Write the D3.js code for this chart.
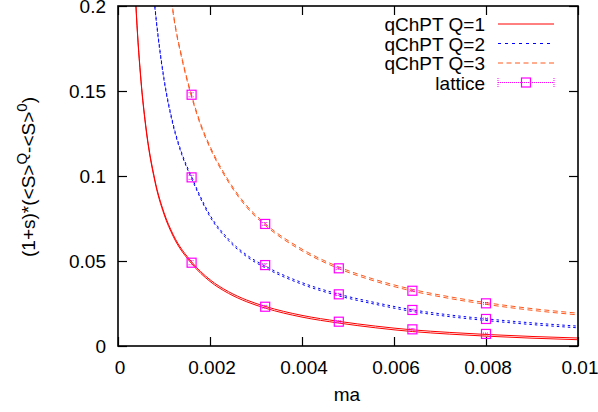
<!DOCTYPE html>
<html><head><meta charset="utf-8">
<script src="https://cdn.jsdelivr.net/npm/d3@7"></script>
<style>
html,body{margin:0;padding:0;background:#fff;}
svg{display:block;}
text{font-family:"Liberation Sans",Arial,Helvetica,sans-serif;fill:#000;}
</style></head>
<body>
<svg id="chart" width="598" height="412"></svg>
<script>
// ---- data ----
const xTicks = [0, 0.002, 0.004, 0.006, 0.008, 0.01];
const xTickLabels = ["0", "0.002", "0.004", "0.006", "0.008", "0.01"];
const yTicks = [0, 0.05, 0.1, 0.15, 0.2];
const yTickLabels = ["0", "0.05", "0.1", "0.15", "0.2"];

const q1Ma  = [0.00035,0.0004,0.0005,0.0006,0.0008,0.001,0.0012,0.0016,0.002,0.0024,0.0028,0.0032,0.004,0.0048,0.0056,0.0064,0.0072,0.008,0.009,0.01];
const q1Val = [0.223,0.195,0.156,0.130,0.0975,0.078,0.065,0.049,0.0385,0.0315,0.0265,0.0228,0.0175,0.0140,0.0112,0.0090,0.0075,0.0063,0.0051,0.0042];
const q1Band = 0.0005;

const q2Ma  = [0.0007,0.0008,0.0009,0.001,0.0012,0.0014,0.0016,0.002,0.0024,0.0028,0.0032,0.004,0.0048,0.0056,0.0064,0.0072,0.008,0.009,0.01];
const q2Val = [0.232,0.200,0.176,0.157,0.130,0.112,0.099,0.0765,0.0625,0.0530,0.0465,0.0368,0.0300,0.0250,0.0208,0.0178,0.0155,0.0131,0.0112];
const q2Band = 0.0005;

const q3Ma  = [0.0011,0.0012,0.0014,0.0016,0.0018,0.002,0.0024,0.0028,0.0032,0.004,0.0048,0.0056,0.0064,0.0072,0.008,0.009,0.01];
const q3Val = [0.218,0.196,0.168,0.147,0.130,0.117,0.097,0.082,0.0715,0.0565,0.0460,0.0385,0.0328,0.0285,0.0250,0.0215,0.0188];
const q3Band = 0.0005;

const latMa  = [0.0016, 0.0032, 0.0048, 0.0064, 0.008];
const latQ1  = [0.0490, 0.0231, 0.0143, 0.0098, 0.0071];
const latQ2  = [0.0992, 0.0476, 0.0304, 0.0212, 0.0159];
const latQ3  = [0.1478, 0.0718, 0.0457, 0.0325, 0.0251];
const latErr = [0.0012, 0.0008, 0.0006, 0.0005, 0.0005];

const legendLabels = ["qChPT Q=1", "qChPT Q=2", "qChPT Q=3", "lattice"];

// ---- layout ----
const L = 118, R = 578, T = 6, B = 346;
const svg = d3.select("#chart");
const x = d3.scaleLinear().domain([0, 0.01]).range([L, R]);
const y = d3.scaleLinear().domain([0, 0.2]).range([B, T]);

svg.append("defs").append("clipPath").attr("id","clip")
  .append("rect").attr("x",L).attr("y",T).attr("width",R-L).attr("height",B-T);

const fs = 19;

// axes with inward ticks
const tickLen = 9;
const axB = d3.axisBottom(x).tickValues(xTicks).tickSize(-tickLen).tickFormat("");
const axT = d3.axisTop(x).tickValues(xTicks).tickSize(-tickLen).tickFormat("");
const axL = d3.axisLeft(y).tickValues(yTicks).tickSize(-tickLen).tickFormat("");
const axR = d3.axisRight(y).tickValues(yTicks).tickSize(-tickLen).tickFormat("");
function styleAx(g){ g.select(".domain").remove(); g.selectAll("line").attr("stroke","#000").attr("stroke-width",1.2); }
svg.append("g").attr("transform",`translate(0,${B})`).call(axB).call(styleAx);
svg.append("g").attr("transform",`translate(0,${T})`).call(axT).call(styleAx);
svg.append("g").attr("transform",`translate(${L},0)`).call(axL).call(styleAx);
svg.append("g").attr("transform",`translate(${R},0)`).call(axR).call(styleAx);

// tick labels
svg.append("g").selectAll("text").data(xTicks).join("text")
  .attr("x", d => x(d) + 2).attr("y", 374)
  .attr("text-anchor","middle").attr("font-size",fs)
  .text((d,i) => xTickLabels[i]);
svg.append("g").selectAll("text").data(yTicks).join("text")
  .attr("x", 106).attr("y", d => y(d) + 7)
  .attr("text-anchor","end").attr("font-size",fs)
  .text((d,i) => yTickLabels[i]);

// axis titles
svg.append("text").attr("x",347).attr("y",401).attr("text-anchor","middle")
  .attr("font-size",fs).text("ma");
const yl = svg.append("text").attr("transform","translate(35,177) rotate(-90)")
  .attr("text-anchor","middle").attr("font-size",fs);
yl.append("tspan").text("(1+s)*(<S>");
yl.append("tspan").attr("font-size",15).attr("dy",-8).text("Q");
yl.append("tspan").attr("dy",8).text("-<S>");
yl.append("tspan").attr("font-size",15).attr("dy",-8).text("0");
yl.append("tspan").attr("dy",8).text(")");

// curves
const plot = svg.append("g").attr("clip-path","url(#clip)");
const line = d3.line().x(d => x(d[0])).y(d => y(d[1])).curve(d3.curveMonotoneX);
const curves = [
  {ma:q1Ma, v:q1Val, band:q1Band, color:"#ff0000", dash:null},
  {ma:q2Ma, v:q2Val, band:q2Band, color:"#0000ff", dash:"2.5,3"},
  {ma:q3Ma, v:q3Val, band:q3Band, color:"#ff5a1e", dash:"5,3.5"}
];
curves.forEach(c => {
  [-1, 1].forEach(s => {
    plot.append("path")
      .attr("d", line(c.ma.map((m,i) => [m, c.v[i] + s*c.band])))
      .attr("fill","none").attr("stroke",c.color).attr("stroke-width",1)
      .attr("stroke-dasharray",c.dash);
  });
});

// lattice points
const magenta = "#ff00ff";
const box = 9;
[latQ1, latQ2, latQ3].forEach(vals => {
  const g = plot.append("g");
  latMa.forEach((m,i) => {
    const cx = x(m), cy = y(vals[i]);
    g.append("line").attr("x1",cx).attr("x2",cx)
      .attr("y1",y(vals[i]+latErr[i])).attr("y2",y(vals[i]-latErr[i]))
      .attr("stroke",magenta).attr("stroke-width",1).attr("stroke-dasharray","1,1");
    g.append("line").attr("x1",cx-3).attr("x2",cx+3)
      .attr("y1",y(vals[i]+latErr[i])).attr("y2",y(vals[i]+latErr[i]))
      .attr("stroke",magenta).attr("stroke-width",1).attr("stroke-dasharray","1,1");
    g.append("line").attr("x1",cx-3).attr("x2",cx+3)
      .attr("y1",y(vals[i]-latErr[i])).attr("y2",y(vals[i]-latErr[i]))
      .attr("stroke",magenta).attr("stroke-width",1).attr("stroke-dasharray","1,1");
    g.append("rect").attr("x",cx-box/2).attr("y",cy-box/2).attr("width",box).attr("height",box)
      .attr("fill","none").attr("stroke",magenta).attr("stroke-width",1.2);
  });
});

// frame
svg.append("rect").attr("x",L).attr("y",T).attr("width",R-L).attr("height",B-T)
  .attr("fill","none").attr("stroke","#000").attr("stroke-width",1.6);

// legend
const legY = [24, 43.5, 63, 82.5];
const lx0 = 498, lx1 = 554, textR = 485;
const legStyles = [
  {color:"#ff0000", dash:null},
  {color:"#0000ff", dash:"3,4"},
  {color:"#ff5a1e", dash:"5,3.5"},
  {color:magenta, dash:"1,1"}
];
legendLabels.forEach((lab,i) => {
  svg.append("text").attr("x",textR).attr("y",legY[i]+7).attr("text-anchor","end")
    .attr("font-size",fs).text(lab);
  svg.append("line").attr("x1",lx0).attr("x2",lx1).attr("y1",legY[i]).attr("y2",legY[i])
    .attr("stroke",legStyles[i].color).attr("stroke-width",1)
    .attr("stroke-dasharray",legStyles[i].dash);
});
// lattice legend extras: end caps and box
[lx0, lx1].forEach(px => {
  svg.append("line").attr("x1",px).attr("x2",px).attr("y1",legY[3]-4.5).attr("y2",legY[3]+4.5)
    .attr("stroke",magenta).attr("stroke-width",1).attr("stroke-dasharray","1,1");
});
svg.append("rect").attr("x",526-box/2).attr("y",legY[3]-box/2).attr("width",box).attr("height",box)
  .attr("fill","none").attr("stroke",magenta).attr("stroke-width",1.2);
</script>
</body></html>
